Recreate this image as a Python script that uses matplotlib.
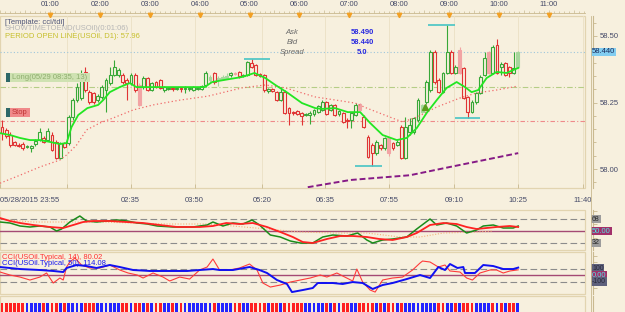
import matplotlib
matplotlib.use('Agg')
import matplotlib.pyplot as plt
from matplotlib.patches import Rectangle
from matplotlib.lines import Line2D
from matplotlib.ticker import MultipleLocator

plt.rcParams['font.family'] = ['Liberation Sans', 'DejaVu Sans']

# ---- USOil M5 candles, minutes after 00:00 (05/29) ----
bar_minutes = [5 * k + 2.5 for k in range(125)]

opens = [58.158, 58.147, 58.128, 58.102, 58.090, 58.094, 58.083, 58.079, 58.094, 58.109,
         58.117, 58.109, 58.128, 58.102, 58.041, 58.098, 58.098, 58.195, 58.259, 58.267,
         58.365, 58.289, 58.286, 58.259, 58.271, 58.297, 58.323, 58.353, 58.353, 58.353,
         58.335, 58.323, 58.353, 58.316, 58.308, 58.342, 58.297, 58.327, 58.335, 58.297,
         58.301, 58.305, 58.301, 58.305, 58.301, 58.301, 58.297, 58.301, 58.301, 58.316,
         58.335, 58.361, 58.335, 58.338, 58.342, 58.353, 58.361, 58.365, 58.350, 58.353,
         58.398, 58.391, 58.357, 58.353, 58.293, 58.301, 58.289, 58.259, 58.289, 58.229,
         58.214, 58.218, 58.211, 58.203, 58.203, 58.207, 58.214, 58.222, 58.252, 58.222,
         58.241, 58.207, 58.211, 58.184, 58.184, 58.203, 58.244, 58.195, 58.120, 58.090,
         58.060, 58.090, 58.079, 58.117, 58.098, 58.090, 58.158, 58.041, 58.139, 58.139,
         58.184, 58.214, 58.252, 58.297, 58.440, 58.335, 58.289, 58.361, 58.440, 58.361,
         58.447, 58.380, 58.271, 58.214, 58.252, 58.286, 58.353, 58.440, 58.361, 58.466,
         58.383, 58.398, 58.383, 58.361, 58.383]
closes = [58.135, 58.124, 58.090, 58.090, 58.086, 58.079, 58.086, 58.086, 58.105, 58.139,
          58.102, 58.143, 58.071, 58.041, 58.098, 58.083, 58.195, 58.259, 58.308, 58.353,
          58.297, 58.252, 58.252, 58.274, 58.308, 58.335, 58.353, 58.383, 58.372, 58.327,
          58.323, 58.353, 58.297, 58.241, 58.342, 58.297, 58.323, 58.308, 58.305, 58.308,
          58.305, 58.301, 58.305, 58.301, 58.305, 58.305, 58.308, 58.305, 58.312, 58.361,
          58.346, 58.327, 58.342, 58.346, 58.350, 58.361, 58.357, 58.350, 58.353, 58.402,
          58.383, 58.353, 58.350, 58.297, 58.301, 58.293, 58.259, 58.289, 58.211, 58.211,
          58.211, 58.207, 58.199, 58.207, 58.211, 58.222, 58.237, 58.252, 58.207, 58.241,
          58.203, 58.218, 58.177, 58.180, 58.211, 58.241, 58.222, 58.158, 58.045, 58.060,
          58.102, 58.079, 58.117, 58.060, 58.079, 58.102, 58.041, 58.158, 58.165, 58.192,
          58.259, 58.241, 58.327, 58.440, 58.327, 58.289, 58.361, 58.440, 58.361, 58.383,
          58.361, 58.267, 58.214, 58.252, 58.286, 58.346, 58.417, 58.361, 58.459, 58.361,
          58.395, 58.353, 58.361, 58.380, 58.440]
highs = [58.184, 58.154, 58.139, 58.105, 58.098, 58.102, 58.090, 58.090, 58.113, 58.154,
         58.124, 58.154, 58.139, 58.109, 58.102, 58.102, 58.203, 58.267, 58.323, 58.372,
         58.383, 58.297, 58.289, 58.282, 58.316, 58.342, 58.383, 58.410, 58.380, 58.361,
         58.342, 58.361, 58.361, 58.323, 58.350, 58.346, 58.327, 58.331, 58.338, 58.312,
         58.308, 58.308, 58.308, 58.308, 58.312, 58.308, 58.312, 58.308, 58.316, 58.368,
         58.353, 58.365, 58.350, 58.353, 58.361, 58.365, 58.365, 58.368, 58.357, 58.406,
         58.414, 58.395, 58.361, 58.357, 58.305, 58.305, 58.293, 58.308, 58.297, 58.233,
         58.218, 58.222, 58.214, 58.211, 58.218, 58.226, 58.241, 58.259, 58.256, 58.244,
         58.244, 58.222, 58.214, 58.192, 58.214, 58.248, 58.248, 58.203, 58.128, 58.098,
         58.109, 58.094, 58.120, 58.120, 58.102, 58.109, 58.165, 58.195, 58.192, 58.195,
         58.267, 58.244, 58.335, 58.447, 58.447, 58.342, 58.365, 58.541, 58.447, 58.391,
         58.459, 58.383, 58.274, 58.259, 58.289, 58.353, 58.440, 58.444, 58.466, 58.489,
         58.402, 58.402, 58.387, 58.440, 58.444]
lows = [58.109, 58.117, 58.083, 58.086, 58.083, 58.071, 58.079, 58.064, 58.086, 58.105,
        58.098, 58.105, 58.068, 58.038, 58.038, 58.079, 58.090, 58.184, 58.252, 58.259,
        58.289, 58.244, 58.244, 58.252, 58.263, 58.214, 58.316, 58.350, 58.346, 58.320,
        58.259, 58.316, 58.289, 58.237, 58.301, 58.293, 58.293, 58.305, 58.301, 58.289,
        58.297, 58.293, 58.297, 58.289, 58.286, 58.293, 58.293, 58.297, 58.297, 58.308,
        58.327, 58.320, 58.312, 58.335, 58.338, 58.346, 58.353, 58.342, 58.346, 58.350,
        58.380, 58.350, 58.346, 58.289, 58.286, 58.289, 58.256, 58.256, 58.207, 58.165,
        58.203, 58.203, 58.165, 58.199, 58.169, 58.199, 58.211, 58.218, 58.203, 58.218,
        58.199, 58.199, 58.173, 58.154, 58.154, 58.199, 58.218, 58.154, 58.041, 58.011,
        58.053, 58.071, 58.071, 58.049, 58.071, 58.086, 58.038, 58.038, 58.128, 58.132,
        58.177, 58.211, 58.244, 58.289, 58.320, 58.286, 58.286, 58.357, 58.357, 58.357,
        58.357, 58.263, 58.192, 58.211, 58.244, 58.282, 58.350, 58.357, 58.357, 58.357,
        58.353, 58.350, 58.346, 58.357, 58.380]
pale_bars = [33, 50, 52, 53, 54, 56, 86, 93, 101, 110, 117, 124]

# moving averages on the price chart
fast_t = [0, 12, 24, 36, 48, 60, 72, 80, 86, 94, 105, 118, 124, 132, 144, 156, 164, 180,
          210, 246, 255, 270, 291, 306, 319, 331, 346, 363, 379, 387, 403, 418, 433, 445,
          460, 477, 489, 501, 513, 525, 537, 549, 559, 567, 575, 585, 597, 609, 623]
fast_p = [58.135, 58.128, 58.117, 58.109, 58.109, 58.102, 58.094, 58.098, 58.158, 58.203,
          58.229, 58.241, 58.259, 58.289, 58.308, 58.323, 58.308, 58.308, 58.308, 58.308,
          58.327, 58.335, 58.346, 58.361, 58.342, 58.316, 58.286, 58.248, 58.229, 58.226,
          58.229, 58.214, 58.214, 58.173, 58.128, 58.109, 58.117, 58.154, 58.211, 58.259,
          58.305, 58.327, 58.308, 58.289, 58.297, 58.342, 58.365, 58.361, 58.380]
slow_t = [0, 24, 48, 72, 80, 92, 104, 120, 136, 160, 184, 216, 250, 291, 319, 343, 379,
          427, 441, 469, 484, 501, 525, 553, 573, 597, 623]
slow_p = [57.947, 57.977, 58.008, 58.034, 58.053, 58.090, 58.147, 58.173, 58.192, 58.222,
          58.241, 58.259, 58.274, 58.305, 58.316, 58.305, 58.271, 58.248, 58.229, 58.195,
          58.177, 58.195, 58.233, 58.267, 58.286, 58.297, 58.312]
long_t = [370, 421, 493, 541, 623]
long_p = [57.932, 57.959, 57.977, 58.008, 58.060]

# levels and markers
bid_price, ask_price, spread = 58.440, 58.490, 5.0
long_level, stop_level = 58.309, 58.182
swing_marks = [(293, 325, 58.414), (515, 547, 58.541), (427, 459, 58.011), (547, 577, 58.192)]
arrow_t, arrow_p = 511, 58.233

# TDI panel
tdi_green_t = [0, 12, 24, 36, 48, 60, 68, 74, 84, 96, 104, 116, 129, 141, 153, 165, 177, 189,
               208, 232, 240, 249, 256, 268, 280, 292, 303, 312, 325, 337, 349, 361, 376, 388,
               400, 417, 430, 441, 448, 460, 472, 489, 501, 517, 525, 537, 549, 561, 573, 581,
               593, 605, 617, 623]
tdi_green = [63.5, 62, 57.5, 56, 57.5, 56, 50, 53, 63.5, 72.5, 65, 63.5, 65, 66.5, 65, 62,
             60.5, 57.5, 56, 56, 57.5, 59, 63.5, 57.5, 62, 60.5, 66.5, 59, 44, 41, 35, 32, 32,
             41, 44, 42.5, 47, 36.5, 32, 36.5, 38, 41, 53, 68, 59, 62, 57.5, 47, 51.5, 57.5,
             59, 54.5, 54.5, 57.5]
tdi_red_t = [0, 12, 24, 40, 60, 76, 88, 100, 112, 132, 152, 172, 192, 213, 232, 240, 256, 272,
             288, 304, 321, 337, 352, 364, 376, 393, 409, 424, 441, 456, 472, 489, 501, 517,
             533, 549, 561, 573, 585, 597, 613, 623]
tdi_red = [69.5, 65, 62, 59, 56, 54.5, 59, 63.5, 65, 65, 63.5, 62, 59, 56, 56, 56, 57.5, 62,
           60.5, 62, 56, 48.5, 41, 33.5, 32, 38, 42.5, 42.5, 41, 38, 36.5, 41, 47, 59, 62,
           60.5, 56, 53, 54.5, 56, 57.5, 56]
tdi_base_t = [0, 24, 40, 80, 120, 160, 200, 249, 280, 321, 361, 400, 441, 481, 505, 533, 573, 593]
tdi_base = [68, 65, 63.5, 63.5, 63.5, 62, 60.5, 60.5, 57.5, 53, 48.5, 47, 47, 41, 41, 47, 48.5, 50]

# CCI panel
cci14_t = [0, 12, 24, 36, 48, 56, 64, 72, 76, 80, 84, 90, 98, 108, 120, 132, 144, 154, 165,
           172, 184, 196, 204, 216, 228, 240, 249, 256, 264, 276, 288, 300, 309, 316, 325, 337,
           349, 361, 373, 385, 393, 405, 412, 424, 429, 436, 445, 451, 460, 472, 484, 496, 505,
           508, 517, 527, 535, 541, 553, 561, 568, 577, 589, 597, 605, 613, 623]
cci14 = [46, 0, -31, -77, -31, 31, -123, -46, -77, 123, 200, 262, 154, 108, 108, 154, 77, 31,
         0, -46, 31, -31, -92, -31, -62, 77, 123, 246, 77, 77, 108, 169, 77, -123, -185, -154,
         -108, -77, -46, 0, -31, 31, -15, -92, 92, -108, -231, -262, -77, -46, -31, 77, 185,
         215, 200, 123, 154, 62, 46, -46, -77, 31, 77, 77, 31, 62, 80]
cci50_t = [0, 24, 48, 64, 76, 80, 92, 104, 116, 132, 144, 160, 180, 225, 240, 256, 264, 280,
           300, 312, 321, 333, 345, 351, 364, 376, 382, 400, 412, 424, 436, 448, 460, 472, 489,
           505, 517, 527, 535, 541, 550, 557, 559, 571, 581, 593, 605, 617, 623]
cci50 = [123, 92, 77, 62, 46, 108, 154, 138, 108, 154, 123, 77, 62, 62, 77, 92, 77, 77, 123,
         77, 31, -77, -138, -262, -231, -200, -123, -123, -138, -108, -123, -215, -154, -123,
         -62, 0, -46, 123, 77, 169, 108, 123, 31, 31, 154, 138, 92, 92, 114]
cci14_last, cci50_last = 80.02, 114.08

# trend bars under the chart (r = red, b = blue)
trend_colors = ('rrrrrrbbbbrbrrbrbbbbrrrbbbbbbrrbrrbrbrrbbrbrbbbbbbbrbbbbrrbbrrrrbrrbrrrrr'
                'bbbbbrbrbrrbbrrrrbrbrrbrbbbbbbbbrrbbrbrrrbbbbrbrbrrbb')

hour_labels = ['01:00', '02:00', '03:00', '04:00', '05:00', '06:00', '07:00', '08:00',
               '09:00', '10:00', '11:00']
date_ticks = [0, 80, 157, 234, 315, 391, 468, 546, 623, 701]
date_labels = ['05/28/2015 23:55', '', '02:35', '03:50', '05:20', '06:35', '07:55',
               '09:10', '10:25', '11:40']

BG = '#f7f0de'
FRAME = '#e2d4b0'
AXIS = '#c9b98f'
TXT = '#454a68'
UP, DN = '#38a838', '#e03434'
PALE_UP, PALE_DN = '#a6d69c', '#f2a4a4'
FIG_W, FIG_H = 625, 312
X_MAX = 703.3


def px_box(x0, y0, x1, y1):
    return [x0 / FIG_W, 1 - y1 / FIG_H, (x1 - x0) / FIG_W, (y1 - y0) / FIG_H]


def panel(box):
    ax = fig.add_axes(px_box(*box), facecolor=BG)
    ax.set_xlim(0, X_MAX)
    for s in ax.spines.values():
        s.set_visible(False)
    ax.add_patch(Rectangle((0, 0), 1, 1, transform=ax.transAxes, fill=False,
                           ec=FRAME, lw=0.9, clip_on=False, zorder=0.5))
    ax.spines['right'].set_visible(True)
    ax.spines['right'].set_position(('outward', 6))
    ax.spines['right'].set_color(AXIS)
    ax.yaxis.tick_right()
    ax.tick_params(axis='x', bottom=False, labelbottom=False)
    ax.tick_params(axis='y', which='both', direction='out', length=3, width=0.6,
                   colors=AXIS, labelcolor=TXT, labelsize=5.5, pad=1.5)
    ax.tick_params(axis='y', which='minor', length=2)
    return ax


def level_tag(ax, y, s, fc, tc, size=5.5):
    ax.text(1 + 7 / 585, y, s, transform=ax.get_yaxis_transform(), fontsize=size,
            color=tc, va='center', ha='left', clip_on=False,
            bbox=dict(boxstyle='square,pad=0.12', fc=fc, ec='none'))


fig = plt.figure(figsize=(6.25, 3.12), dpi=100, facecolor=BG)

# ---------------- price panel ----------------
ax = panel((0, 16, 585, 188))
ax.set_ylim(57.929, 58.575)
ax.yaxis.set_major_locator(MultipleLocator(0.25))
ax.yaxis.set_minor_locator(MultipleLocator(0.05))
ax.yaxis.set_major_formatter(matplotlib.ticker.FormatStrFormatter('%.2f'))

for m in date_ticks[1:]:
    ax.axvline(m, color='#ebe0c4', lw=0.6, zorder=0.6)

ax.axhline(bid_price, color='#9ec6dc', lw=0.8, ls=(0, (1, 2)), zorder=1)
ax.axhline(long_level, color='#b5cd86', lw=0.8, ls=(0, (5, 2, 1, 2)), zorder=1)
ax.axhline(stop_level, color='#ef8a8a', lw=0.8, ls=(0, (4, 2, 1, 2)), zorder=1)

for k, (t, o, h, l, c) in enumerate(zip(bar_minutes, opens, highs, lows, closes)):
    up = c >= o
    pale = k in pale_bars
    col = (PALE_UP if up else PALE_DN) if pale else (UP if up else DN)
    ax.vlines(t, l, h, color=col, lw=0.8, zorder=3)
    ax.add_patch(Rectangle((t - 1.7, min(o, c)), 3.4, max(abs(c - o), 0.002),
                           fc=col if pale else BG, ec=col, lw=0.8, zorder=4))

ax.plot(slow_t, slow_p, color='#f06a6a', lw=0.9, ls=(0, (1, 2)), zorder=5)
ax.plot(fast_t, fast_p, color='#22e622', lw=1.3, zorder=5)
ax.plot(long_t, long_p, color='#861a86', lw=1.4, ls=(0, (3, 1.5)), zorder=5)
for t0, t1, p in swing_marks:
    ax.hlines(p, t0, t1, color='#46c4c4', lw=1.2, zorder=6)
ax.plot(arrow_t, arrow_p, marker='^', color='#5b9b1c', ms=4, zorder=7)

ax.set_xticks(date_ticks)
ax.set_xticklabels(date_labels)
ax.tick_params(axis='x', bottom=True, labelbottom=True, direction='in', length=3,
               width=0.6, colors=AXIS, labelcolor=TXT, labelsize=5.5, pad=6.5)
ax.get_xticklabels()[0].set_ha('left')
level_tag(ax, bid_price, '%.3f' % bid_price, '#82cdf0', '#1c2c5c')

# header ruler with hours
hdr = fig.add_axes(px_box(0, 0, 585, 12.5), facecolor=BG)
hdr.set_xlim(0, X_MAX)
hdr.set_ylim(0, 1)
for s in hdr.spines.values():
    s.set_visible(False)
hdr.spines['bottom'].set_visible(True)
hdr.spines['bottom'].set_color(AXIS)
hdr.spines['bottom'].set_linewidth(0.6)
hdr.set_yticks([])
hdr.xaxis.set_major_locator(MultipleLocator(30))
hdr.xaxis.set_minor_locator(MultipleLocator(6))
hdr.tick_params(axis='x', which='both', direction='in', length=2.5, width=0.5,
                colors=AXIS, labelbottom=False)
hdr.tick_params(axis='x', which='minor', length=1.5)
hour_minutes = [60 * (i + 1) for i in range(len(hour_labels))]
for m, s in zip(hour_minutes, hour_labels):
    hdr.text(m, 0.6, s, ha='center', va='center', fontsize=5.5, color=TXT)
hdr.plot(hour_minutes, [-0.2] * len(hour_minutes), 'v', color='#f2a024', ms=3.2,
         clip_on=False, zorder=10)

# ---------------- TDI panel ----------------
tdi = panel((0, 210, 585, 250))
tdi.set_ylim(21.5, 81.5)
tdi.yaxis.set_major_locator(MultipleLocator(10))
tdi.tick_params(axis='y', labelright=False)
tdi.axhline(68, color='#8c8c8c', lw=0.8, ls=(0, (6, 3)))
tdi.axhline(32, color='#8c8c8c', lw=0.8, ls=(0, (6, 3)))
tdi.axhline(50, color='#a44a74', lw=1.0)
tdi.plot(tdi_base_t, tdi_base, color='#f5b27a', lw=0.8, ls=(0, (1, 1.5)))
tdi.plot(tdi_green_t, tdi_green, color='#1a8c1a', lw=1.1)
tdi.plot(tdi_red_t, tdi_red, color='#ff2222', lw=1.3)
level_tag(tdi, 68, '68', '#9c9c9c', '#2a2a2a', 5)
level_tag(tdi, 50, '50.00', '#a2306a', '#4fe6e6')
level_tag(tdi, 32, '32', '#9c9c9c', '#2a2a2a', 5)

# ---------------- CCI panel ----------------
cci = panel((0, 252, 585, 294))
cci.set_ylim(-292, 354)
cci.yaxis.set_major_locator(MultipleLocator(100))
cci.tick_params(axis='y', labelright=False)
cci.axhline(100, color='#8c8c8c', lw=0.8, ls=(0, (6, 3)))
cci.axhline(-100, color='#8c8c8c', lw=0.8, ls=(0, (6, 3)))
cci.axhline(0, color='#a44a74', lw=1.0)
cci.plot(cci14_t, cci14, color='#ff3a3a', lw=0.8)
cci.plot(cci50_t, cci50, color='#1010f2', lw=1.4)
cci.text(2 / 585, 0.86, 'CCI(USOil.Typical, 14), %.2f' % cci14_last, transform=cci.transAxes,
         fontsize=5.5, color='#ff3030', va='center')
cci.text(2 / 585, 0.72, 'CCI(USOil.Typical, 50), %.2f' % cci50_last, transform=cci.transAxes,
         fontsize=5.5, color='#1515f0', va='center')
level_tag(cci, 100, '100', '#5e607c', '#2a2a3a', 5)
level_tag(cci, 0, '0.00', '#a2306a', '#4fe6e6')
level_tag(cci, -100, '-100', '#5e607c', '#2a2a3a', 5)

# ---------------- trend bars ----------------
trb = panel((0, 296, 585, 320))
trb.set_ylim(0, 1)
trb.set_yticks([])
bar_cols = {'r': '#ff2020', 'b': '#2424ff'}
trb.bar(bar_minutes, [0.7] * len(bar_minutes), width=3.4, bottom=0,
        color=[bar_cols[c] for c in trend_colors[:len(bar_minutes)]])

# right axis line running through all panels
fig.add_artist(Line2D([591 / FIG_W] * 2, [0, 1 - 16 / FIG_H], color=AXIS, lw=0.6))


# ---------------- texts on the price chart ----------------
def ftext(x, y, s, **kw):
    kw.setdefault('fontsize', 5.5)
    kw.setdefault('va', 'center')
    fig.text(x / FIG_W, 1 - y / FIG_H, s, **kw)


ftext(5, 22, '[Template: cci/tdi]', color='#4e5578')
ftext(5, 29, 'SHOWTIMETOEND(USOil)(0:01:06)', color='#b6b6b6')
ftext(5, 37, 'PERIOD OPEN LINE(USOil, D1): 57.96', color='#c6bf2c')
for y, name, val in [(32, 'Ask', '%.3f' % ask_price), (42, 'Bid', '%.3f' % bid_price),
                     (52, 'Spread', '%.1f' % spread)]:
    ftext(292, y, name, ha='center', color='#6a6a6a', style='italic')
    ftext(362, y, val, ha='center', color='#2a2ae0', weight='bold')

# position tags
for y0, w, fc, s, tc in [(73, 80, '#cfe2b2', 'Long(05/29 08:35, 13)', '#8fae6e'),
                         (108, 20, '#f08a8a', 'Stop', '#bf3434')]:
    fig.add_artist(Rectangle((6 / FIG_W, 1 - (y0 + 9) / FIG_H), 4 / FIG_W, 9 / FIG_H,
                             transform=fig.transFigure, fc='#2e6868', ec='none'))
    fig.add_artist(Rectangle((10 / FIG_W, 1 - (y0 + 9) / FIG_H), w / FIG_W, 9 / FIG_H,
                             transform=fig.transFigure, fc=fc, ec='none'))
    ftext(12, y0 + 4.7, s, color=tc)

fig.savefig('out.png', dpi=100, facecolor=BG)
